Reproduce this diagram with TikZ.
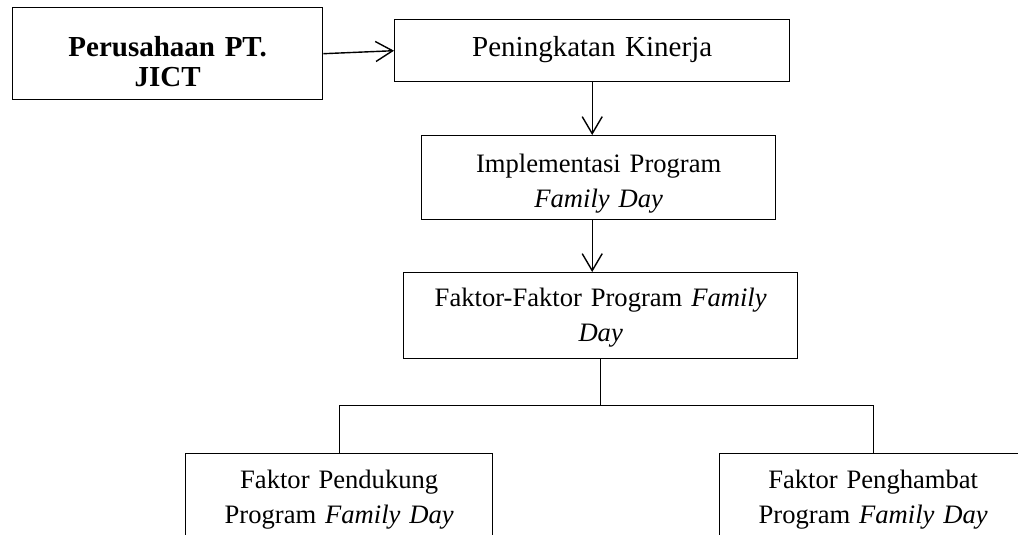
\documentclass[tikz,border=0pt]{standalone}
\usepackage{fontspec}
\setmainfont{Liberation Serif}
\usetikzlibrary{arrows.meta}
\tikzset{
  box/.style={draw, line width=1.4pt, anchor=north west, inner sep=0pt, align=center,
    font=\fontsize{26.6}{35}\selectfont},
  arr/.style={line width=1.4pt, -{Straight Barb[length=17pt,width=20pt,line width=1.4pt]}},
  conn/.style={line width=1.4pt}
}
\begin{document}
\begin{tikzpicture}[x=1pt,y=-1pt]
\clip (0,0) rectangle (1018,535);
\node[box, text width=310pt, text height=49pt, text depth=43pt,
      font=\fontsize{29}{30}\selectfont\bfseries] (b1) at (12,7) {Perusahaan PT.\\JICT};
\node[box, text width=395pt, text height=37pt, text depth=25pt,
      font=\fontsize{29}{35}\selectfont] (b2) at (394,19) {Peningkatan Kinerja};
\node[box, text width=354pt, text height=37pt, text depth=47pt] (b3) at (421,135) {Implementasi Program\\\textit{Family Day}};
\node[box, text width=394pt, text height=34pt, text depth=52pt] (b4) at (403,272) {Faktor-Faktor Program \textit{Family}\\\textit{Day}};
\node[box, text width=307pt, text height=35pt, text depth=70pt] (b5) at (185,453) {Faktor Pendukung\\Program \textit{Family Day}};
\node[box, text width=307pt, text height=35pt, text depth=70pt] (b6) at (719,453) {Faktor Penghambat\\Program \textit{Family Day}};
\draw[arr] (b1.east) -- (b2.west);
\draw[arr] (b2.south) -- (b2.south |- b3.north);
\draw[arr] (b2.south |- b3.south) -- (b2.south |- b4.north);
\draw[conn] (b4.south) -- ++(0,46) coordinate (j);
\draw[conn] (b5.north) |- (j) -| (b6.north);
\end{tikzpicture}
\end{document}
